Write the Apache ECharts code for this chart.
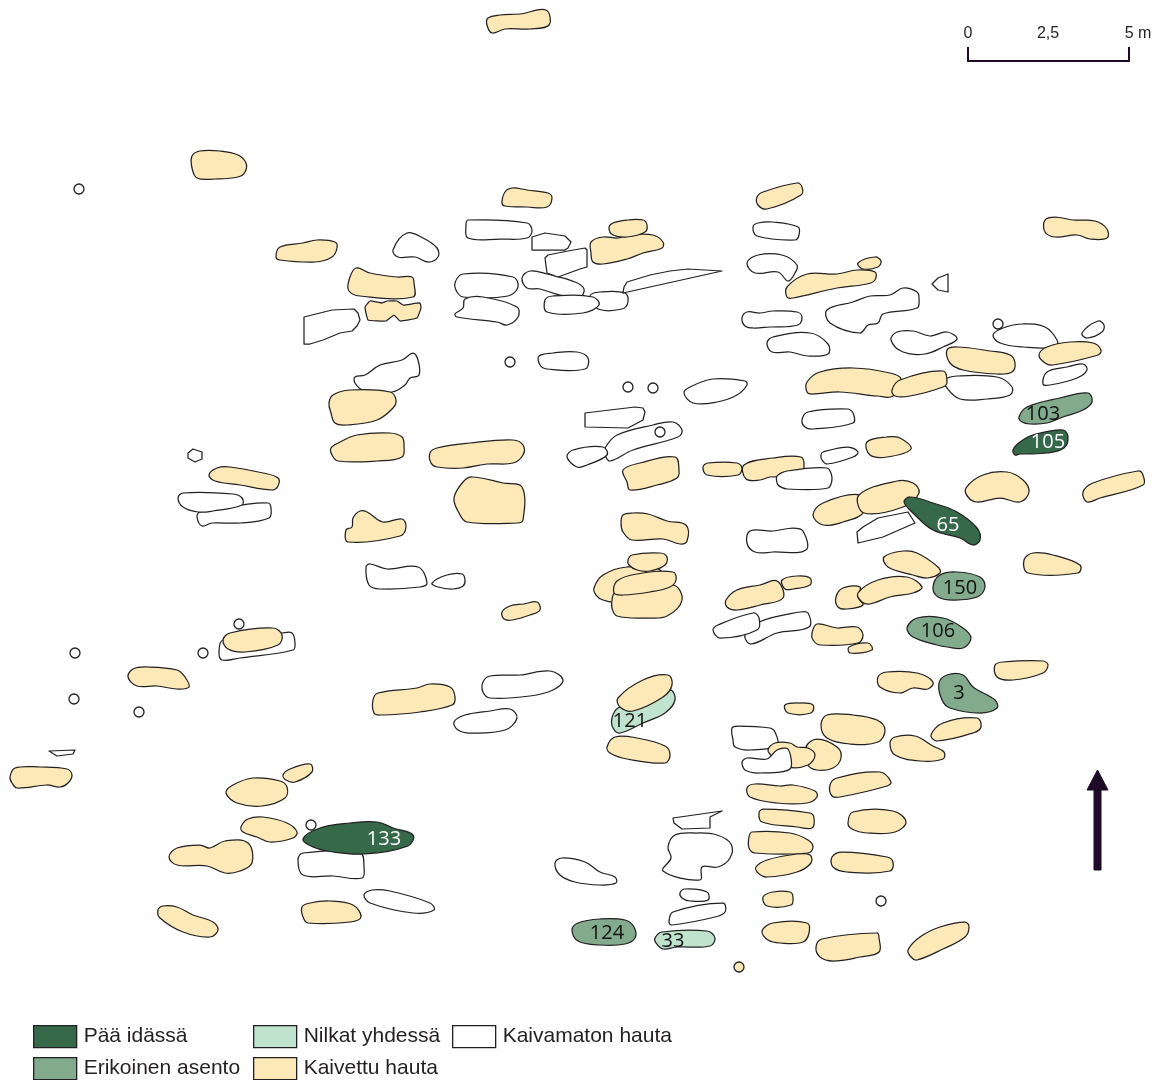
<!DOCTYPE html>
<html><head><meta charset="utf-8">
<style>html,body{margin:0;padding:0;background:#fff}#c{width:1165px;height:1080px}</style>
<script src="https://cdn.jsdelivr.net/npm/echarts@6/dist/echarts.min.js"></script>
</head><body><div id="c"></div>
<script>
// Map data: grave outlines in site-plan coordinates, flat x,y lists
const anklesTogether = [
 [612,718,618,708,640,702,670,690,675,700,665,713,643,723,620,733,613,728],
 [655,938,662,932,707,931,715,938,710,946,677,947,663,949,656,943]
];
const unexcavatedLow = [
 [466,225,468,220,527,223,532,231,527,238,500,239,468,238],
 [393,250,407,233,423,238,437,248,438,257,428,262,415,257,398,257],
 [522,278,530,271,547,274,575,282,584,289,580,297,560,295,540,289,527,288],
 [455,283,463,274,513,277,518,287,508,296,463,297,457,292],
 [455,314,463,308,465,299,483,297,517,307,518,317,507,325,497,322,457,317],
 [590,296,600,292,625,293,628,302,622,309,598,309],
 [545,300,553,296,593,297,599,305,583,313,547,312],
 [539,356,553,353,577,352,588,358,585,369,547,369,540,365],
 [355,377,365,375,380,365,402,360,413,353,418,360,419,375,410,378,405,385,392,392,363,390,355,383],
 [197,517,200,512,242,505,268,503,271,508,269,518,240,523,212,523,202,526],
 [178,498,183,493,233,494,242,498,242,505,213,511,198,512,183,507],
 [366,567,370,564,387,569,418,567,427,583,420,587,380,589,369,585],
 [432,583,447,575,462,574,465,580,463,586,453,589,438,587],
 [684,393,690,387,713,379,745,381,747,385,737,395,717,402,693,403],
 [605,448,617,435,653,425,673,422,682,430,678,437,633,450,610,461,605,455],
 [567,457,573,450,603,447,607,455,587,465,577,467],
 [802,420,808,412,847,409,853,413,853,423,813,429,805,427],
 [821,455,823,452,848,447,858,452,853,457,827,464,822,460],
 [747,543,750,531,773,531,793,528,803,531,806,550,773,552,755,552],
 [759,622,800,612,808,613,809,627,777,633,751,644,745,635],
 [713,630,718,625,753,613,759,618,757,630,720,638],
 [753,227,758,223,773,222,798,227,799,235,795,240,757,236],
 [747,263,758,255,782,255,797,265,795,273,788,281,778,272,755,273],
 [742,318,747,312,760,313,773,311,797,312,802,317,798,325,770,327,753,328,745,326],
 [827,310,853,302,870,296,890,295,903,288,917,292,919,298,917,308,883,314,878,323,868,325,860,333,830,323],
 [767,343,773,337,810,333,828,344,828,354,808,356,790,352,772,352],
 [891,340,897,332,913,331,930,336,947,332,957,339,943,347,925,354,903,352],
 [993,335,1003,328,1023,324,1045,327,1057,340,1056,347,1023,347,1000,343],
 [1082,333,1098,321,1104,325,1102,332,1087,338],
 [1043,384,1047,372,1067,367,1083,364,1087,370,1077,378,1050,385],
 [945,380,957,376,997,377,1012,387,1010,395,987,399,960,399,947,388],
 [732,728,738,726,770,728,775,732,777,745,750,750,735,747,733,740],
 [668,847,675,835,697,833,717,835,731,844,730,858,718,867,702,867,700,880,663,871,671,858],
 [680,893,685,889,707,892,708,900,690,901,682,898],
 [669,922,673,912,723,903,725,912,715,917,672,925],
 [555,863,562,858,585,862,600,872,615,877,616,883,600,885,575,882,560,875],
 [219,652,223,640,282,633,292,633,295,643,293,650,240,658,222,660],
 [483,682,490,676,520,675,550,671,563,680,553,690,530,696,490,698,483,692],
 [454,722,465,715,490,711,510,709,517,718,505,730,470,733,458,730],
 [298,860,303,853,360,853,364,867,362,878,333,876,303,875],
 [364,895,372,890,390,891,430,903,434,910,413,913,370,903]
];
const unexcavatedAngular = [
 [532,237,545,233,565,236,571,242,568,248,565,250,532,250],
 [545,258,548,255,568,251,585,248,587,250,587,267,580,269,558,277,547,273],
 [623,293,624,287,627,282,650,275,670,271,688,269,722,271],
 [304,317,332,310,354,309,358,313,360,320,357,326,352,331,340,333,323,340,310,344,304,344],
 [188,453,193,449,202,452,202,459,195,462,188,458],
 [585,413,635,407,643,408,645,412,643,420,628,428,585,427],
 [857,532,863,527,878,518,908,512,915,523,883,537,858,543],
 [932,284,938,278,948,274,948,292,938,290],
 [673,818,722,811,710,817,710,828,682,829,674,823],
 [49,751,75,750,73,754,57,756]
];
const excavated = [
 [488,18,500,15,520,14,546,10,549,25,530,29,505,29,492,33,487,25],
 [192,156,200,151,220,151,238,155,246,163,245,172,238,177,215,179,197,178,192,168],
 [502,203,505,192,512,188,527,190,548,193,552,198,547,207,527,207,505,206],
 [276,257,280,247,303,243,317,240,335,242,337,248,332,257,315,262,280,260],
 [349,280,356,268,370,273,397,277,412,277,414,283,413,297,360,296,349,291],
 [591,242,603,237,618,238,630,235,653,235,663,242,662,248,643,253,627,259,603,264,593,262,591,253],
 [609,228,613,223,627,220,643,220,647,225,645,232,627,237,613,235],
 [329,403,333,395,350,390,390,392,396,400,393,408,377,420,347,425,335,423,331,413],
 [331,448,340,442,357,435,390,433,402,437,404,445,402,457,377,461,338,461,332,455],
 [430,453,437,448,470,443,513,440,523,445,523,455,513,463,487,464,463,468,437,467,431,463],
 [454,498,463,482,472,477,503,483,522,487,523,520,517,523,467,522,459,513],
 [209,475,217,468,230,467,263,473,278,478,278,486,272,490,240,485,215,481],
 [346,530,352,527,353,518,360,511,367,512,383,522,402,519,406,527,400,536,348,542],
 [502,612,510,606,524,604,537,602,540,610,530,615,512,620,504,619],
 [623,470,640,463,675,457,679,470,677,478,657,485,630,490,627,482],
 [703,467,708,463,737,463,742,468,738,475,707,475],
 [744,465,773,458,801,457,804,467,800,475,770,477,760,480,746,479],
 [621,523,623,515,633,513,648,514,667,521,686,525,687,541,680,544,663,539,632,540,623,532],
 [594,588,603,575,627,567,660,570,660,590,615,602,603,600,596,595],
 [612,600,615,593,673,585,682,600,667,616,647,618,617,616,612,608],
 [614,593,617,581,637,574,673,572,676,580,670,587,650,592,623,595],
 [628,560,632,555,660,553,667,557,665,565,650,571,637,570,629,565],
 [726,600,737,590,760,585,777,581,783,598,760,605,737,610,727,607],
 [782,580,797,576,810,578,810,585,793,589,785,589],
 [812,633,817,624,837,628,857,627,863,635,858,643,820,645,813,640],
 [849,647,868,643,872,650,850,653],
 [813,515,823,503,860,495,864,512,843,522,823,525],
 [859,495,897,481,913,483,919,493,903,507,864,513],
 [966,488,983,475,1007,472,1023,480,1029,492,1020,502,1000,498,977,502,968,497],
 [1083,492,1093,483,1138,471,1143,475,1143,485,1100,498,1087,502],
 [867,442,887,437,900,438,911,449,887,457,870,455],
 [884,557,903,551,917,553,938,567,940,573,927,578,913,575,888,567],
 [836,597,843,588,860,587,858,597,863,605,847,609,838,607],
 [858,593,878,580,907,577,922,587,913,593,890,597,870,604,862,602],
 [1024,560,1033,553,1053,555,1080,565,1078,573,1028,573],
 [995,665,1003,662,1043,661,1048,665,1043,673,1013,680,997,677],
 [878,677,887,672,917,673,933,682,928,689,913,688,900,693,880,687],
 [618,698,643,680,668,675,672,685,663,697,633,711,620,707],
 [607,747,615,737,637,738,665,746,670,755,665,763,627,759,610,753],
 [785,705,800,703,813,705,811,713,788,713],
 [806,747,817,739,837,747,841,758,833,768,817,770,808,765],
 [768,750,775,743,790,743,797,747,808,748,815,755,808,765,788,767,773,757],
 [821,725,827,715,853,715,877,720,885,730,878,742,850,744,827,738],
 [890,743,895,737,915,736,933,746,944,752,943,759,920,761,895,755],
 [931,735,943,723,977,718,981,727,973,733,937,741],
 [830,785,837,778,880,772,891,782,887,786,840,797,832,796],
 [747,788,755,784,780,786,793,785,815,791,817,797,807,803,777,803,750,797],
 [759,813,763,809,810,813,814,818,812,828,797,827,762,822],
 [848,823,853,812,893,811,906,822,895,832,867,833,852,829],
 [749,837,752,832,790,833,808,840,813,847,808,853,755,853,749,848],
 [756,867,767,860,797,854,810,855,811,863,797,872,767,877,758,873],
 [832,857,842,852,887,857,893,862,890,871,847,872,833,867],
 [763,897,773,892,790,892,793,897,791,905,767,906],
 [762,931,773,923,807,923,809,933,803,942,780,943,768,940],
 [816,947,822,939,877,933,879,938,879,952,860,957,833,961,820,957],
 [908,950,920,937,940,927,965,922,969,927,965,937,943,949,917,960,911,957],
 [757,197,763,192,797,183,802,187,801,195,767,209,758,205],
 [1045,220,1055,217,1073,220,1095,221,1107,229,1107,238,1090,239,1077,235,1055,237,1045,232],
 [858,263,875,257,881,261,878,267,863,269],
 [787,287,807,274,837,274,857,270,875,272,875,280,867,284,837,288,793,298,787,297],
 [947,350,957,347,990,351,1010,355,1015,363,1012,372,997,374,963,370,950,363],
 [1039,355,1047,347,1070,342,1093,343,1101,350,1098,355,1053,365,1045,363],
 [807,382,820,372,853,368,890,373,901,379,893,396,877,396,840,392,812,394,807,392],
 [892,390,900,380,943,371,947,382,943,387,910,396,895,396],
 [223,640,230,633,273,628,282,635,278,645,245,652,228,649],
 [128,677,133,669,147,667,177,670,185,677,189,687,177,689,157,686,137,686],
 [373,700,378,693,417,688,430,684,450,687,455,697,452,705,420,712,380,715,374,713],
 [10,777,15,768,40,767,67,769,72,775,68,783,60,787,47,785,17,788,12,783],
 [226,793,233,785,253,778,280,781,287,787,285,798,262,806,237,803],
 [283,775,290,769,310,764,312,772,295,782,286,780],
 [241,827,248,819,263,817,287,823,297,832,293,838,270,842,257,837,243,832],
 [169,857,177,848,200,845,210,848,225,841,248,843,252,863,240,871,225,873,207,866,177,865],
 [158,910,163,906,177,907,193,915,213,922,218,930,210,937,183,932,160,918],
 [302,907,310,903,330,901,353,905,361,917,350,922,308,923,303,917]
];
const excavatedJagged = [
 [365,307,370,301,382,303,387,301,397,301,403,305,420,303,421,308,417,318,400,321,394,315,386,321,368,320]
];
const unexcavatedOver = [
 [777,476,787,471,827,468,832,478,828,488,787,489,778,485],
 [742,762,747,758,767,759,777,750,788,749,790,769,760,773,745,770]
];
const specialPose = [
 [1019,417,1027,407,1060,398,1088,393,1092,402,1083,410,1063,417,1047,423,1030,424,1022,422],
 [933,587,940,575,957,572,980,577,985,587,977,597,953,600,938,597],
 [907,628,917,618,943,618,963,628,971,638,963,648,947,647,937,645,913,637],
 [939,683,947,675,963,675,973,687,995,700,997,708,980,713,950,708,942,700],
 [572,930,578,923,600,919,625,920,634,927,635,938,625,944,600,945,578,941]
];
const headEast = [
 [303,839,320,828,350,823,377,822,393,828,413,835,408,846,363,854,333,852,313,847],
 [904,502,910,497,933,503,957,512,977,528,980,540,973,545,960,538,933,530,913,513],
 [1013,450,1020,442,1033,435,1063,430,1068,437,1064,448,1047,453,1020,454,1015,455]
];
const posts = [[79,189],[510,362],[628,387],[653,388],[660,432],[998,324],[239,624],[75,653],[203,653],[74,699],[139,712],[311,825],[881,901]];
const excavatedPosts = [[739,967]];
const darkLabels = [[1043,414,'103'],[960,588,'150'],[938,631,'106'],[959,693,'3'],[630,721,'121'],[607,933,'124'],[673,941,'33']];
const lightLabels = [[1048,442,'105'],[948,525,'65'],[384,839,'133']];
const scaleBar = [968,47,968,61,1129,61,1129,47];
const scaleTicks = [[968,34,'0'],[1048,34,'2,5'],[1138,34,'5 m']];
const northArrow = [1094,870,1094,790,1087,790,1097.5,770,1108,790,1101,790,1101,870];
const legendNames = ['Pää idässä','Erikoinen asento','Nilkat yhdessä','Kaivettu hauta','Kaivamaton hauta'];

const COL = {east:'#36694a',special:'#82aa8d',ankles:'#bfe3cd',exc:'#fde9b8',none:'#ffffff',line:'#231f20',ink:'#1c0a26'};
const toPts = (api, f) => { const r=[]; for(let i=0;i<f.length;i+=2) r.push(api.coord([f[i],f[i+1]])); return r; };
function polySeries(name, polys, color, smooth){
  return {type:'custom', name, silent:true, animation:false, clip:false,
    coordinateSystem:'cartesian2d', itemStyle:{color, borderColor:COL.line, borderWidth:1},
    data:polys.map((p,i)=>[p[0],p[1],i]), encode:{x:0,y:1},
    renderItem(params, api){
      return {type:'polygon', shape:{points:toPts(api, polys[params.dataIndex]), smooth},
        style:{fill:color, stroke:COL.line, lineWidth:1.25, lineJoin:'round'}};
    }};
}
function labelSeries(rows, color, size, family){
  return {type:'scatter', silent:true, animation:false, symbolSize:0, clip:false,
    itemStyle:{opacity:1},
    data:rows.map(r=>({value:[r[0],r[1]], name:r[2]})),
    label:{show:true, position:'inside', formatter:'{b}', color, fontSize:size, fontFamily:family, opacity:1}};
}
function postSeries(rows, fill){
  return {type:'scatter', silent:true, animation:false, symbol:'circle', symbolSize:10, clip:false, data:rows,
    itemStyle:{color:fill, opacity:1, borderColor:COL.line, borderWidth:1.3}};
}
function inkSeries(kind, pts, fill){
  return {type:'custom', silent:true, animation:false, clip:false, coordinateSystem:'cartesian2d',
    data:[[pts[0],pts[1]]], encode:{x:0,y:1},
    renderItem(params, api){
      return kind==='polygon'
        ? {type:'polygon', shape:{points:toPts(api,pts)}, style:{fill, stroke:fill, lineWidth:1}}
        : {type:'polyline', shape:{points:toPts(api,pts)}, style:{fill:'none', stroke:fill, lineWidth:2}};
    }};
}
const legendAt = (i,left,top) => ({orient:'horizontal', left, top, data:[legendNames[i]],
  itemWidth:43, itemHeight:22, icon:'rect', selectedMode:false, padding:0,
  itemStyle:{borderColor:COL.line, borderWidth:1.3},
  textStyle:{fontFamily:'Liberation Sans', fontSize:21, color:'#231f20', padding:[4,0,0,2]}});
const chart = echarts.init(document.getElementById('c'), null, {renderer:'canvas'});
chart.setOption({
  animation:false, backgroundColor:'#fff',
  grid:{left:0,right:0,top:0,bottom:0},
  xAxis:{type:'value',min:0,max:1165,show:false},
  yAxis:{type:'value',min:0,max:1080,inverse:true,show:false},
  legend:[legendAt(0,33,1025),legendAt(1,33,1057),legendAt(2,253,1025),legendAt(3,253,1057),legendAt(4,452,1025)],
  series:[
    polySeries(legendNames[2], anklesTogether, COL.ankles, 0.38),
    polySeries(legendNames[4], unexcavatedLow, COL.none, 0.38),
    polySeries(legendNames[4], unexcavatedAngular, COL.none, 0),
    polySeries(legendNames[3], excavated, COL.exc, 0.38),
    polySeries(legendNames[3], excavatedJagged, COL.exc, 0.1),
    polySeries(legendNames[4], unexcavatedOver, COL.none, 0.3),
    polySeries(legendNames[1], specialPose, COL.special, 0.38),
    polySeries(legendNames[0], headEast, COL.east, 0.38),
    postSeries(posts,'#ffffff'),
    postSeries(excavatedPosts,COL.exc),
    labelSeries(darkLabels,'#111111',20,'Open Sans'),
    labelSeries(lightLabels,'#ffffff',20,'Open Sans'),
    labelSeries(scaleTicks,'#231f20',16,'Liberation Sans'),
    inkSeries('polyline',scaleBar,COL.ink),
    inkSeries('polygon',northArrow,COL.ink)
  ]
});
</script></body></html>
